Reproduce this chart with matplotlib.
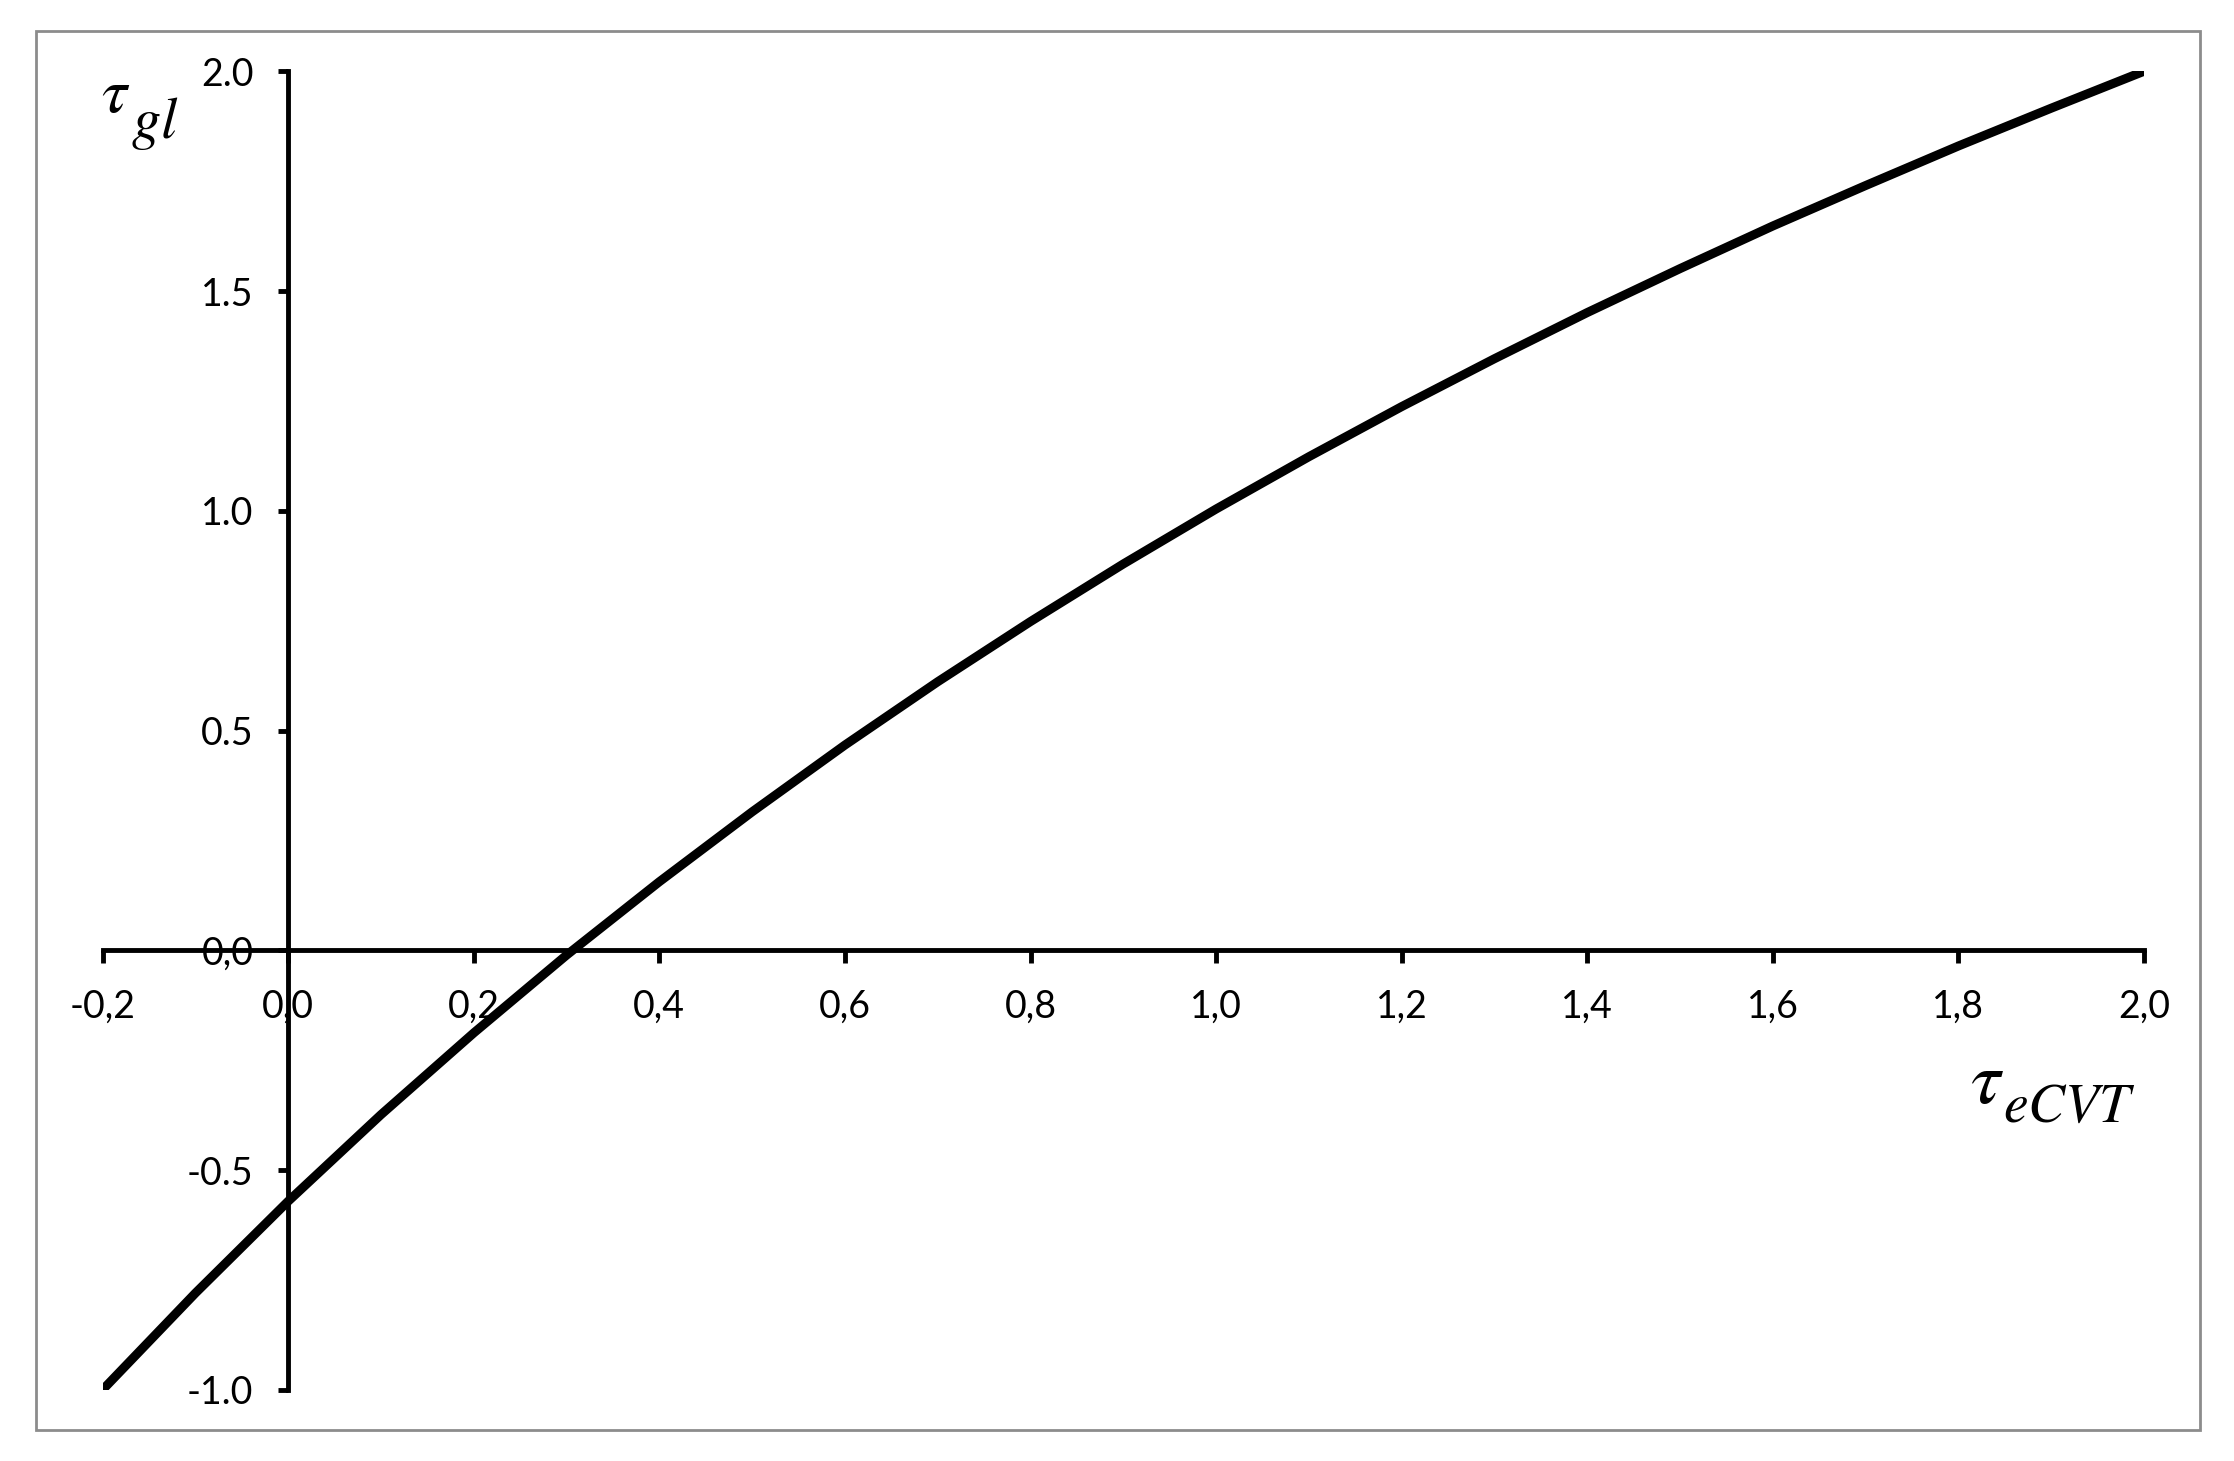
import matplotlib
matplotlib.use("Agg")
import matplotlib.pyplot as plt
from matplotlib.patches import Rectangle

# ---- data ----
tau_ecvt = [-0.2, -0.1, 0.0, 0.1, 0.2, 0.3, 0.4, 0.5, 0.6, 0.7, 0.8, 0.9,
            1.0, 1.1, 1.2, 1.3, 1.4, 1.5, 1.6, 1.7, 1.8, 1.9, 2.0]
tau_gl = [-1.000, -0.780, -0.571, -0.374, -0.188, -0.011, 0.156, 0.315, 0.467,
          0.611, 0.748, 0.879, 1.004, 1.123, 1.237, 1.346, 1.451, 1.551, 1.648,
          1.740, 1.830, 1.916, 2.000]

x_ticks = [-0.2, 0.0, 0.2, 0.4, 0.6, 0.8, 1.0, 1.2, 1.4, 1.6, 1.8, 2.0]
x_tick_labels = ["-0,2", "0,0", "0,2", "0,4", "0,6", "0,8", "1,0", "1,2",
                 "1,4", "1,6", "1,8", "2,0"]
y_ticks = [-1.0, -0.5, 0.0, 0.5, 1.0, 1.5, 2.0]
y_tick_labels = ["-1.0", "-0.5", "0,0", "0.5", "1.0", "1.5", "2.0"]

plt.rcParams['font.family'] = ['Lato', 'DejaVu Sans']
plt.rcParams['mathtext.fontset'] = 'stix'

fig = plt.figure(figsize=(22.34, 14.61), dpi=100)
fig.patches.append(Rectangle((0.016, 0.021), 0.969, 0.958, transform=fig.transFigure,
                             fill=False, edgecolor='#8c8c8c', linewidth=2.0))

ax = fig.add_axes([0.04593, 0.04873, 0.9138, 0.9025])
ax.plot(tau_ecvt, tau_gl, color='black', linewidth=6.5, solid_capstyle='butt',
        solid_joinstyle='round', zorder=3)

ax.set_xlim(-0.2, 2.0)
ax.set_ylim(-1.0, 2.0)

for s in ['top', 'right']:
    ax.spines[s].set_visible(False)
ax.spines['left'].set_position(('data', 0.0))
ax.spines['bottom'].set_position(('data', 0.0))
for s in ['left', 'bottom']:
    ax.spines[s].set_linewidth(3.5)
    ax.spines[s].set_color('black')

ax.set_xticks(x_ticks)
ax.set_xticklabels(x_tick_labels)
ax.set_yticks(y_ticks)
ax.set_yticklabels(y_tick_labels)
ax.tick_params(axis='x', direction='out', length=9, width=3.5, pad=19, labelsize=27)
ax.tick_params(axis='y', direction='out', length=7, width=3.5, pad=18, labelsize=27)

# axis labels (tau with large italic subscripts)
fig.text(0.0452, 0.9233, r'$\tau$', fontsize=46, ha='left', va='baseline')
fig.text(0.0585, 0.9055, r'$gl$', fontsize=42, ha='left', va='baseline')
fig.text(0.8818, 0.2450, r'$\tau$', fontsize=54, ha='left', va='baseline')
fig.text(0.8965, 0.2320, r'$eCVT$', fontsize=40, ha='left', va='baseline')

fig.savefig('out.png', dpi=100, facecolor='white')
